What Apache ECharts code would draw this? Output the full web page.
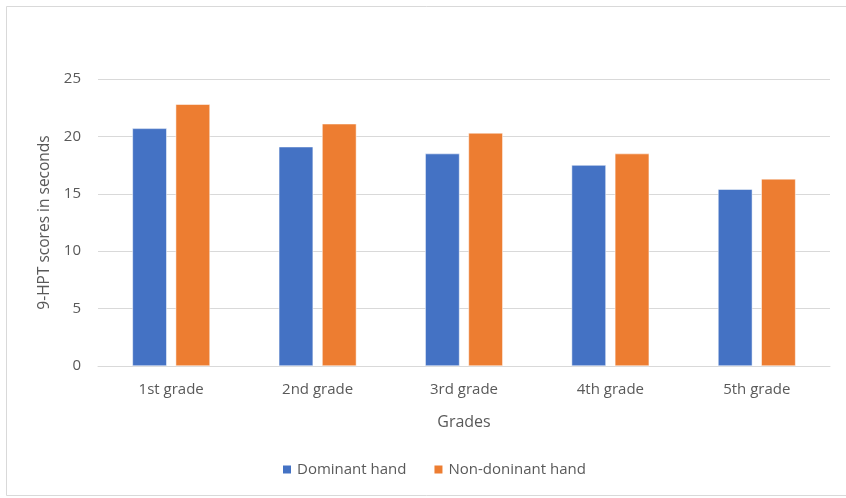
<!DOCTYPE html>
<html>
<head>
<meta charset="utf-8">
<script src="https://cdn.jsdelivr.net/npm/echarts@6/dist/echarts.min.js"></script>
<style>
  html, body { margin: 0; padding: 0; background: #fff; }
  #main { width: 846px; height: 498px; }
</style>
</head>
<body>
<div id="main"></div>
<script>
var grades = ['1st grade', '2nd grade', '3rd grade', '4th grade', '5th grade'];
var dominant = [20.7, 19.1, 18.5, 17.5, 15.4];
var nonDominant = [22.8, 21.1, 20.3, 18.5, 16.3];

var textGray = '#595959';
var font = 'Open Sans';

var myChart = echarts.init(document.getElementById('main'));
var option = {
    backgroundColor: '#fff',
    animation: false,
    textStyle: { fontFamily: font },
    graphic: [{
        type: 'rect',
        shape: { x: 6.5, y: 6.5, width: 850, height: 489 },
        style: { fill: 'none', stroke: '#d9d9d9', lineWidth: 1 },
        silent: true
    }],
    grid: { left: 98, right: 16, top: 79, bottom: 132 },
    legend: {
        bottom: 16,
        left: 276,
        itemWidth: 10,
        itemHeight: 10,
        itemGap: 26,
        icon: 'rect',
        textStyle: { color: textGray, fontSize: 15, fontFamily: font },
        data: ['Dominant hand', 'Non-doninant hand']
    },
    xAxis: {
        type: 'category',
        data: grades,
        name: 'Grades',
        nameLocation: 'middle',
        nameGap: 48,
        nameTextStyle: { color: textGray, fontSize: 16, fontFamily: font },
        axisLine: { lineStyle: { color: '#d9d9d9' } },
        axisTick: { show: false },
        axisLabel: { color: textGray, fontSize: 15, margin: 16, fontFamily: font }
    },
    yAxis: {
        type: 'value',
        min: 0,
        max: 25,
        interval: 5,
        name: '9-HPT scores in seconds',
        nameLocation: 'middle',
        nameGap: 45,
        nameTextStyle: { color: textGray, fontSize: 15.5, fontFamily: font },
        axisLine: { show: false },
        axisTick: { show: false },
        axisLabel: { color: textGray, fontSize: 15, margin: 17, fontFamily: font },
        splitLine: { lineStyle: { color: '#d9d9d9' } }
    },
    series: [{
        name: 'Dominant hand',
        type: 'bar',
        data: dominant,
        barGap: '26%',
        barCategoryGap: '47%',
        itemStyle: { color: '#4472c4', borderColor: '#fff', borderWidth: 0.5 }
    }, {
        name: 'Non-doninant hand',
        type: 'bar',
        data: nonDominant,
        itemStyle: { color: '#ed7d31', borderColor: '#fff', borderWidth: 0.5 }
    }]
};
myChart.setOption(option);
</script>
</body>
</html>
